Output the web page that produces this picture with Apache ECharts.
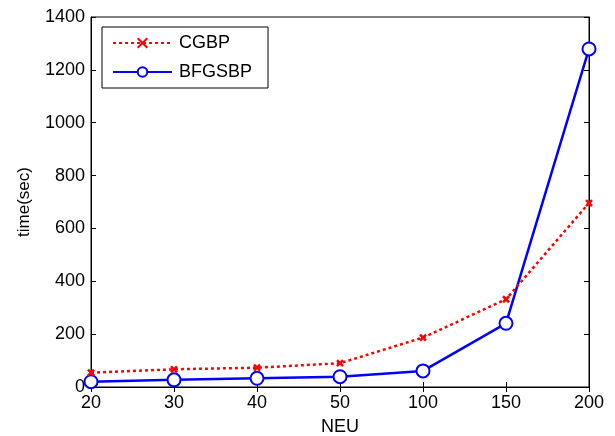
<!DOCTYPE html>
<html>
<head>
<meta charset="utf-8">
<script src="https://cdn.jsdelivr.net/npm/echarts@6/dist/echarts.min.js"></script>
<style>
  html, body { margin: 0; padding: 0; background: #fff; }
  #chart { width: 615px; height: 436px; }
</style>
</head>
<body>
<div id="chart"></div>
<script>
const categories = ['20', '30', '40', '50', '100', '150', '200']
const cgbp = [54, 67, 73, 90, 187, 332, 696]
const bfgsbp = [20, 27, 33, 39, 61, 241, 1279]

// small "x" marker like matlab's
const crossPath = 'path://M0,0 L10,10 M10,0 L0,10'
const font = 'Liberation Sans'

const tickIn = { show: true, inside: true, length: 5, lineStyle: { color: '#000' } }

const option = {
  animation: false,
  backgroundColor: '#fff',
  textStyle: { fontFamily: font },
  grid: {
    left: 91, right: 26, top: 17, bottom: 49,
    outerBoundsMode: 'none',
    show: true, borderColor: '#000', borderWidth: 1
  },
  legend: {
    orient: 'vertical',
    left: 102, top: 27,
    padding: [7, 16, 7, 10],
    itemGap: 11,
    itemWidth: 59, itemHeight: 12,
    borderColor: '#000', borderWidth: 1,
    backgroundColor: '#fff',
    textStyle: { fontSize: 18, color: '#000', fontFamily: font, padding: [0, 0, 0, 2] },
    data: ['CGBP', 'BFGSBP']
  },
  xAxis: [
    {
      type: 'category', data: categories, boundaryGap: false,
      name: 'NEU', nameLocation: 'middle', nameGap: 31, nameMoveOverlap: false,
      nameTextStyle: { fontSize: 18, color: '#000' },
      axisLine: { lineStyle: { color: '#000' } },
      axisTick: tickIn,
      axisLabel: { fontSize: 18, color: '#000', margin: 7 }
    },
    {
      type: 'category', data: categories, boundaryGap: false, position: 'top',
      axisLine: { lineStyle: { color: '#000' } },
      axisTick: tickIn, axisLabel: { show: false }
    }
  ],
  yAxis: [
    {
      type: 'value', min: 0, max: 1400, interval: 200,
      name: 'time(sec)', nameLocation: 'middle', nameGap: 58, nameMoveOverlap: false,
      nameTextStyle: { fontSize: 17, color: '#000' },
      axisLine: { show: true, lineStyle: { color: '#000' } },
      axisTick: tickIn,
      splitLine: { show: false },
      axisLabel: { fontSize: 18, color: '#000', margin: 6, formatter: v => String(v) }
    },
    {
      type: 'value', min: 0, max: 1400, interval: 200, position: 'right',
      axisLine: { show: true, lineStyle: { color: '#000' } },
      axisTick: tickIn, splitLine: { show: false }, axisLabel: { show: false }
    }
  ],
  series: [
    {
      name: 'CGBP', type: 'line', data: cgbp,
      symbol: crossPath, symbolSize: 6,
      color: '#ff0000',
      lineStyle: { color: '#ff0000', width: 2.5, type: [3, 3] },
      itemStyle: { color: '#ff0000', borderColor: '#ff0000', borderWidth: 2.5 },
      z: 3
    },
    {
      name: 'BFGSBP', type: 'line', data: bfgsbp,
      symbol: 'emptyCircle', symbolSize: 13,
      color: '#0000ff',
      lineStyle: { color: '#0000ff', width: 2.5 },
      itemStyle: { color: '#0000ff', borderColor: '#0000ff', borderWidth: 2.5 },
      z: 2
    }
  ]
}

const chart = echarts.init(document.getElementById('chart'))
chart.setOption(option)
</script>
</body>
</html>
